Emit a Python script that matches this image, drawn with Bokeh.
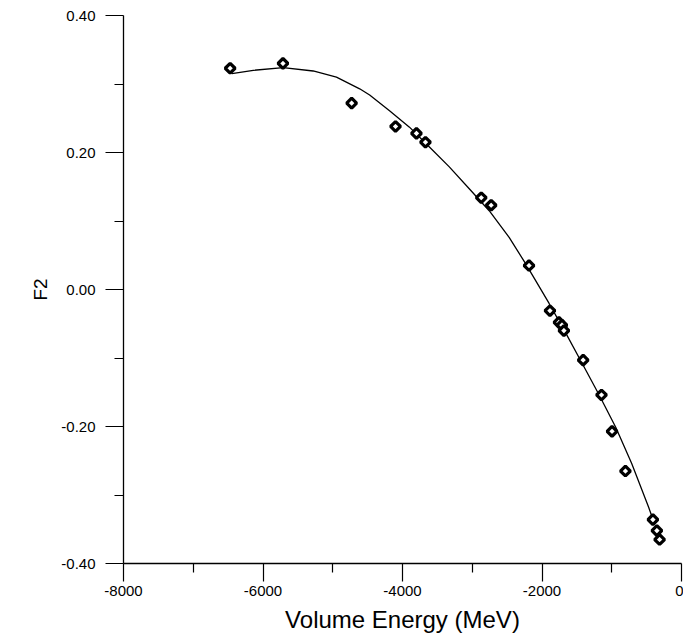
import math
from bokeh.plotting import figure
from bokeh.models import Range1d, FixedTicker, ColumnDataSource
from bokeh.embed import file_html
from bokeh.resources import INLINE

# Data points (Volume Energy in MeV, F2)
energy = [-6471, -5714, -4729, -4100, -3800, -3671, -2871, -2729, -2186,
          -1886, -1757, -1714, -1686, -1410, -1147, -996, -804, -410, -353, -314]
f2 = [0.323, 0.330, 0.272, 0.238, 0.228, 0.215, 0.134, 0.123, 0.035,
      -0.031, -0.048, -0.052, -0.060, -0.103, -0.154, -0.207, -0.265, -0.336, -0.352, -0.365]

# Fitted curve
fit_x = [-6447, -6139, -5710, -5281, -4947, -4614, -4471, -4186, -3900, -3614, -3329,
         -3043, -2757, -2471, -2233, -1900, -1657, -1429, -1186, -943, -714, -471, -429]
fit_y = [0.315, 0.320, 0.324, 0.319, 0.310, 0.293, 0.284, 0.261, 0.237, 0.208, 0.179,
         0.147, 0.115, 0.076, 0.0375, -0.020, -0.064, -0.107, -0.153, -0.201, -0.254, -0.318, -0.330]

x_ticks = [-8000, -6000, -4000, -2000, 0]
x_minor = [-7000, -5000, -3000, -1000]
y_ticks = [-0.4, -0.2, 0.0, 0.2, 0.4]
y_minor = [-0.3, -0.1, 0.1, 0.3]
y_labels = {-0.4: "-0.40", -0.2: "-0.20", 0.0: "0.00", 0.2: "0.20", 0.4: "0.40"}

FONT = "Liberation Sans"

p = figure(width=683, height=640, output_backend="svg", toolbar_location=None,
           x_range=Range1d(-8000, 0), y_range=Range1d(-0.4, 0.4),
           min_border_left=123, min_border_right=2, min_border_top=15, min_border_bottom=77)
p.outline_line_color = None
p.grid.visible = False
p.background_fill_color = "white"
p.border_fill_color = "white"

p.line(fit_x, fit_y, line_color="black", line_width=1.3)
src = ColumnDataSource(dict(x=energy, y=f2))
p.scatter("x", "y", source=src, marker="square", angle=math.pi / 4, size=7,
          fill_color="white", line_color="black", line_width=3.2)

for ax in (p.xaxis[0], p.yaxis[0]):
    ax.axis_line_color = "black"
    ax.axis_line_width = 1.3
    ax.major_tick_in = 0
    ax.minor_tick_in = 0
    ax.major_tick_out = 18
    ax.minor_tick_out = 9
    ax.major_tick_line_color = "black"
    ax.minor_tick_line_color = "black"
    ax.major_tick_line_width = 1.2
    ax.minor_tick_line_width = 1.2
    ax.major_label_text_font = FONT
    ax.major_label_text_font_size = "15px"
    ax.major_label_text_color = "black"
    ax.axis_label_text_font = FONT
    ax.axis_label_text_font_style = "normal"
    ax.axis_label_text_color = "black"

p.xaxis[0].ticker = FixedTicker(ticks=x_ticks, minor_ticks=x_minor)
p.yaxis[0].ticker = FixedTicker(ticks=y_ticks, minor_ticks=y_minor)
p.yaxis[0].major_label_overrides = y_labels
p.xaxis[0].major_label_overrides = {v: str(v) for v in x_ticks}
p.xaxis[0].major_label_standoff = 4
p.yaxis[0].major_label_standoff = 10
p.xaxis[0].axis_label = "Volume Energy (MeV)"
p.xaxis[0].axis_label_text_font_size = "24px"
p.xaxis[0].axis_label_standoff = 7
p.yaxis[0].axis_label = "F2"
p.yaxis[0].axis_label_text_font_size = "19px"
p.yaxis[0].axis_label_standoff = 7

open("out.html", "w").write(file_html(p, INLINE))
